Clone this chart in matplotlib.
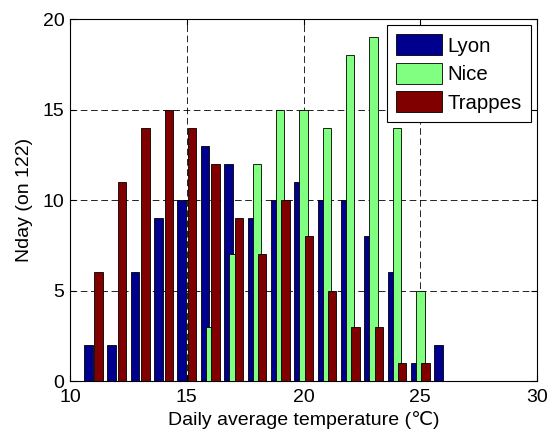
import numpy as np
from matplotlib import pyplot as plt

plt.rcParams['font.family'] = ['Liberation Sans', 'DejaVu Sans']
plt.rcParams['lines.scale_dashes'] = False

# Bin centres (deg C) and number of days per bin
temp = np.arange(11, 27)
lyon = [2, 2, 6, 9, 10, 13, 12, 9, 10, 11, 10, 10, 8, 6, 1, 2]
nice = [0, 0, 0, 0, 0, 3, 7, 12, 15, 15, 14, 18, 19, 14, 5, 0]
trappes = [6, 11, 14, 15, 14, 12, 9, 7, 10, 8, 5, 3, 3, 1, 1, 0]

noms = ['Lyon', 'Nice', 'Trappes']
couleurs = ['#00008F', '#80FF80', '#800000']

fig = plt.figure(figsize=(5.48, 4.34), dpi=100)
ax = fig.add_axes([0.128, 0.122, 0.852, 0.834])

dx = 0.222
larg = 0.36
for i, (serie, c, nom) in enumerate(zip([lyon, nice, trappes], couleurs, noms)):
    ax.bar(temp + (i - 1) * dx, serie, larg, color=c, edgecolor='black',
           linewidth=0.6, label=nom, zorder=2 + i)

ax.set_xlim(10, 30)
ax.set_ylim(0, 20)
ax.set_xticks([10, 15, 20, 25, 30])
ax.set_yticks([0, 5, 10, 15, 20])
ax.grid(True, color='black', linewidth=0.6, linestyle=(0, (4.8, 2.6)), zorder=1)
ax.set_axisbelow(True)
ax.tick_params(direction='in', length=4, top=True, right=True, labelsize=14)
ax.tick_params(axis='x', pad=6)
ax.tick_params(axis='y', pad=4)
for s in ax.spines.values():
    s.set_linewidth(0.8)

ax.set_xlabel('Daily average temperature (℃)', fontsize=14, labelpad=3)
ax.set_ylabel('Nday (on 122)', fontsize=14, labelpad=7)

leg = ax.legend(loc='upper right', fontsize=14.7, handlelength=2.25, handleheight=1.2,
                handletextpad=0.25, labelspacing=0.35, borderpad=0.45,
                borderaxespad=0.3, fancybox=False, framealpha=1)
leg.get_frame().set_edgecolor('black')
leg.get_frame().set_linewidth(0.8)

plt.savefig('out.png', dpi=100)
